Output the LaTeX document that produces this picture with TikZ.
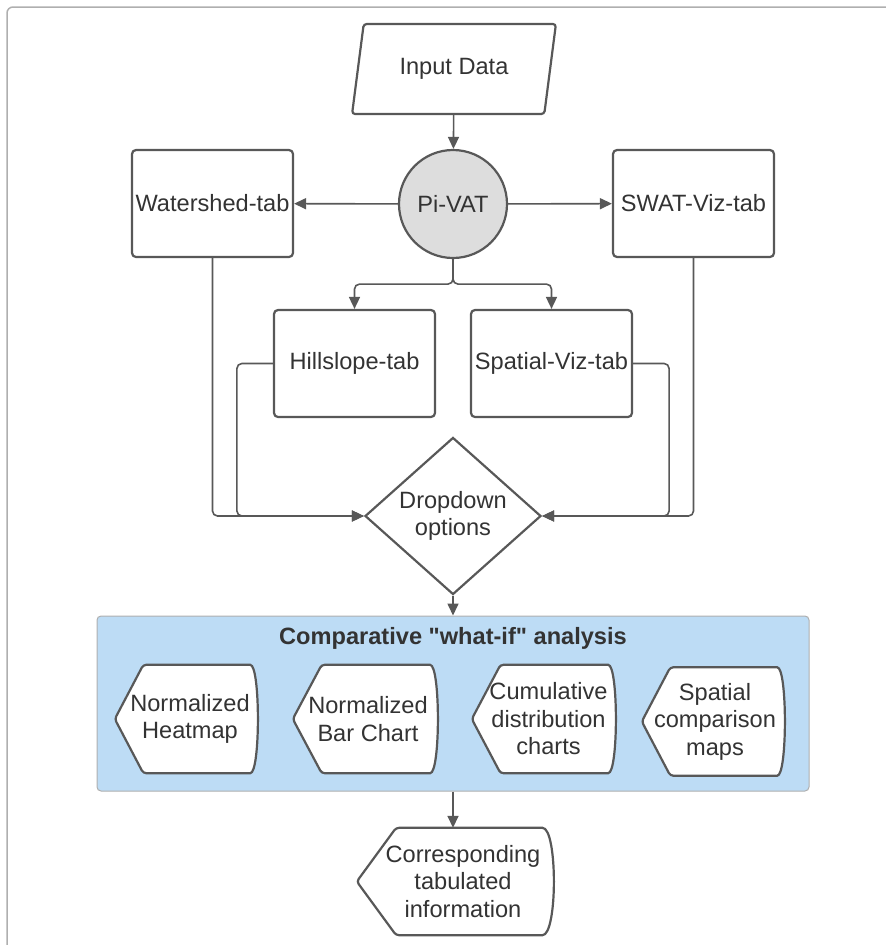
\documentclass[tikz,border=0pt]{standalone}
\usepackage{fontspec}
\setmainfont{Liberation Sans}[Ligatures=TeXOff]
\usetikzlibrary{arrows.meta,shapes.geometric,calc,backgrounds}
\definecolor{linegray}{RGB}{88,88,88}
\definecolor{textgray}{RGB}{51,51,51}
\definecolor{circlegray}{RGB}{221,221,221}
\definecolor{panelblue}{RGB}{189,220,245}
\definecolor{framegray}{RGB}{175,175,175}
\newcommand{\flowfont}{\fontsize{23.6}{27.5}\selectfont}
\tikzset{
  every node/.style={font=\flowfont, text=textgray, align=center},
  box/.style={draw=linegray, line width=2.2pt, rounded corners=4pt,
    minimum width=161pt, minimum height=107pt, inner sep=0pt},
  disp/.style={minimum height=108pt, inner sep=0pt},
  outline/.style={draw=linegray, line width=2.2pt, fill=white, rounded corners=3pt},
  flow/.style={draw=linegray, line width=1.6pt, rounded corners=5pt,
    -{Triangle[length=12pt,width=11pt]}},
}
\begin{document}
\begin{tikzpicture}[x=1pt,y=-1pt]
  \useasboundingbox (0,0) rectangle (886,945);
  \draw[framegray, line width=1.5pt, rounded corners=6pt] (886,7) -| (7,945);

  % top part
  \node[trapezium, trapezium left angle=75, trapezium right angle=105,
    trapezium stretches=true, draw=linegray, line width=2.2pt, rounded corners=3pt,
    minimum width=204pt, minimum height=90pt] (input) at (454,69) {Input Data};
  \node[circle, draw=linegray, line width=2.2pt, fill=circlegray,
    minimum size=108pt, inner sep=0pt] (pivat) at (453,204) {Pi-VAT};
  \node[box] (water) at (212.5,203.5) {Watershed-tab};
  \node[box] (swat) at (693.5,203.5) {SWAT-Viz-tab};
  \node[box] (hill) at (354.5,363.5) {Hillslope-tab};
  \node[box] (spatial) at (551.5,363.5) {Spatial-Viz-tab};
  \node[diamond, draw=linegray, line width=2.2pt, inner sep=0pt,
    minimum width=176pt, minimum height=122pt] (drop) at (453,516) {Dropdown\\options};

  % what-if panel
  \begin{scope}[on background layer]
    \node[fill=panelblue, draw=framegray, line width=1pt, rounded corners=4pt,
      minimum width=712pt, minimum height=175pt] (whatif) at (453,703.5) {};
  \end{scope}
  \node[font=\flowfont\bfseries] (title) at (453,638) {Comparative "what-if" analysis};
  \node[disp, minimum width=142pt] (heat) at (190,719) {Normalized\\Heatmap};
  \node[disp, minimum width=144pt] (bar) at (368,719) {Normalized\\Bar Chart};
  \node[disp, minimum width=143pt] (cdf) at (548.5,719) {Cumulative\\distribution\\charts};
  \node[disp, minimum width=142pt] (map) at (715,721.5) {Spatial\\comparison\\maps};
  \node[disp, minimum width=196pt, minimum height=107pt] (tab) at (463,881.5)
    {Corresponding\\tabulated\\information};
  \begin{scope}[on background layer]
    \foreach \n/\d in {heat/4,bar/3,cdf/5,map/2,tab/8}
      \draw[outline] ($(\n.west)+(-\d,0)$)
        -- ($(\n.north west)!0.2!(\n.north east)+(-\d,0)$)
        -- ($(\n.north west)!0.93!(\n.north east)+(-\d,0)$)
        .. controls ($(\n.north west)!1.023!(\n.north east)+(-\d,0)$)
        and ($(\n.south west)!1.023!(\n.south east)+(-\d,0)$)
        .. ($(\n.south west)!0.93!(\n.south east)+(-\d,0)$)
        -- ($(\n.south west)!0.2!(\n.south east)+(-\d,0)$) -- cycle;
  \end{scope}

  % connectors
  \begin{scope}[flow]
    \draw (input) -- (pivat);
    \draw (pivat) -- (water);
    \draw (pivat) -- (swat);
    \draw (pivat.south) -- ++(0,25) -| (hill.north);
    \draw (pivat.south) -- ++(0,25) -| (spatial.north);
    \draw (water.south) |- (drop.west);
    \draw (hill.west) -- ++(-36,0) |- (drop.west);
    \draw (swat.south) |- (drop.east);
    \draw (spatial.east) -- ++(36,0) |- (drop.east);
    \draw (drop) -- (whatif);
    \draw (whatif.south) -- (whatif.south |- tab.north);
  \end{scope}
\end{tikzpicture}
\end{document}
